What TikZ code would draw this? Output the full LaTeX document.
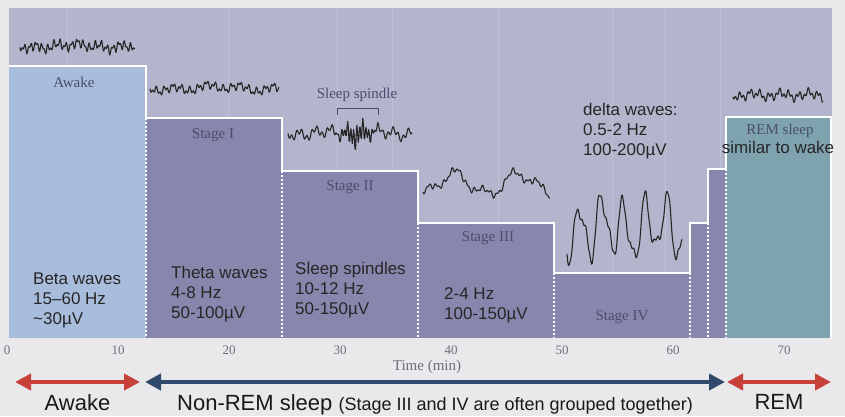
\documentclass[tikz,border=0pt]{standalone}
\usepackage{fontspec}
\setmainfont{Liberation Serif}
\setsansfont{Liberation Sans}
\usetikzlibrary{positioning,calc,arrows.meta}
\definecolor{pagebg}{HTML}{E9E9EC}
\definecolor{panel}{HTML}{B3B5CC}
\definecolor{awakebox}{HTML}{A7BDDB}
\definecolor{nrembox}{HTML}{8886AC}
\definecolor{rembox}{HTML}{7FA3AE}
\definecolor{stagetxt}{HTML}{4A4D6E}
\definecolor{axtxt}{HTML}{6E6E78}
\definecolor{arrred}{HTML}{C8403A}
\definecolor{arrblue}{HTML}{2F4A6C}

\begin{document}
\begin{tikzpicture}[x=1pt,y=-1pt,
 eeg/.style={black!85,line width=1.1pt,line join=round},
 edge/.style={white,line width=1.6pt},
 bound/.style={white,line width=1.4pt,dash pattern=on 1.6pt off 2.4pt},
 grid/.style={white,opacity=0.18,line width=1pt},
 stagelbl/.style={font=\fontsize{15}{17}\selectfont,text=stagetxt},
 info/.style={font=\sffamily\fontsize{17}{20}\selectfont,align=left,anchor=north west,inner sep=0pt,text=black!85},
 tick/.style={font=\fontsize{13}{15}\selectfont,text=axtxt},
 span/.style={line width=4pt,{Triangle[length=16pt,width=16pt]}-{Triangle[length=16pt,width=16pt]}},
 phase/.style={font=\sffamily\fontsize{22}{26}\selectfont,text=black!90}]
\useasboundingbox[fill=pagebg] (0,0) rectangle (845,416);
% chart panel and stage boxes
\fill[panel] (9,8) rectangle (832,338);
\foreach \gx in {67,228,337,392,498,612,665,720}
 \draw[grid] (\gx,8) -- (\gx,338);
\fill[awakebox] (9,66) rectangle (146,338);
\fill[nrembox] (146,118) rectangle (282,338);
\fill[nrembox] (282,171) rectangle (418,338);
\fill[nrembox] (418,223) rectangle (554,338);
\fill[nrembox] (554,273) rectangle (690,338);
\fill[nrembox] (690,223) rectangle (708,338);
\fill[nrembox] (708,169) rectangle (726,338);
\fill[rembox] (726,117) rectangle (831,338);
\draw[edge] (9,66) -- (146,66) -- (146,118) -- (282,118) -- (282,171) -- (418,171)
 -- (418,223) -- (554,223) -- (554,273) -- (690,273) -- (690,223) -- (708,223)
 -- (708,169) -- (726,169) -- (726,117) -- (831,117) -- (831,338);
\foreach \bx/\by in {146/118,282/171,418/223,554/273,690/273,708/223,726/169}
 \draw[bound] (\bx,\by) -- (\bx,338);
% stage names
\node[stagelbl] (lawake) at (74,82) {Awake};
\node[stagelbl] (lstage1) at (213,135) {Stage I};
\node[stagelbl] (lstage2) at (350,187) {Stage II};
\node[stagelbl] (lstage3) at (488,238) {Stage III};
\node[stagelbl] (lstage4) at (622,317) {Stage IV};
\node[stagelbl] (lrem) at (780,131) {REM sleep};
% eeg traces (local x, shifted)
\draw[eeg] plot[domain=0:115,samples=170] ({20+\x},{46+3.2*sin(61*\x)+2.4*sin(113*\x+40)+2.2*sin(17*\x)+1.5*sin(5*\x)});
\draw[eeg] plot[domain=0:129,samples=180] ({150+\x},{88+2.8*sin(43*\x)+2.2*sin(97*\x+20)+2.5*sin(11*\x)+1.5*sin(4*\x)});
\draw[eeg] plot[domain=0:124,samples=190] ({288+\x},{133+4*sin(23*\x)+3*sin(71*\x+10)+2*sin(7*\x)+10*exp(-((\x-69)/15)^2)*sin(119*\x)});
\draw[eeg] plot[domain=0:127,samples=160] ({423+\x},{184+10*sin(5.5*\x+100)+5*sin(13*\x+200)+2*sin(47*\x)+1.5*sin(83*\x)});
\draw[eeg] plot[domain=0:115,samples=170] ({567+\x},{228+26*sin(16.5*\x+60)+10*sin(31*\x+20)+6*sin(7*\x)+2*sin(90*\x)});
\draw[eeg] plot[domain=0:90,samples=140] ({733+\x},{95+3*sin(37*\x)+2.6*sin(89*\x+50)+2*sin(13*\x)});
% sleep spindle marker
\node[stagelbl] (lspindle) at (357,95) {Sleep spindle};
\draw[stagetxt,line width=0.7pt] (337,115) -- (337,108) -- (378,108) -- (378,115);
% wave facts
\node[info] (beta) at (33,273) {Beta waves\\15–60 Hz\\\textasciitilde30µV};
\node[info] (theta) at (171,266) {Theta waves\\4-8 Hz\\50-100µV};
\node[info] (spind) at (295,262) {Sleep spindles\\10-12 Hz\\50-150µV};
\node[info] (slow) at (444,287) {2-4 Hz\\100-150µV};
\node[info] (delta) at (583,103) {delta waves:\\0.5-2 Hz\\100-200µV};
\node[info,anchor=north] (remnote) at (778,141) {similar to wake};
% time axis
\foreach \t in {0,10,...,70}
 \node[tick] (t\t) at ({7+11.1*\t},350) {\t};
\node[tick,font=\fontsize{15}{17}\selectfont] (taxis) at (427,367) {Time (min)};
% phases
\coordinate (awL) at (15,382);
\coordinate (awR) at (140,382);
\coordinate (nrL) at (145,382);
\coordinate (nrR) at (725,382);
\coordinate (rmL) at (727,382);
\coordinate (rmR) at (831,382);
\draw[span,arrred] (awL) -- (awR);
\draw[span,arrblue] (nrL) -- (nrR);
\draw[span,arrred] (rmL) -- (rmR);
\node[phase,below=9pt of $(awL)!0.5!(awR)$] (pawake) {Awake};
\node[phase,below=9pt of $(nrL)!0.5!(nrR)$] (pnrem) {Non-REM sleep {\fontsize{18}{22}\selectfont(Stage III and IV are often grouped together)}};
\node[phase,below=9pt of $(rmL)!0.5!(rmR)$] (prem) {REM};
\end{tikzpicture}
\end{document}
